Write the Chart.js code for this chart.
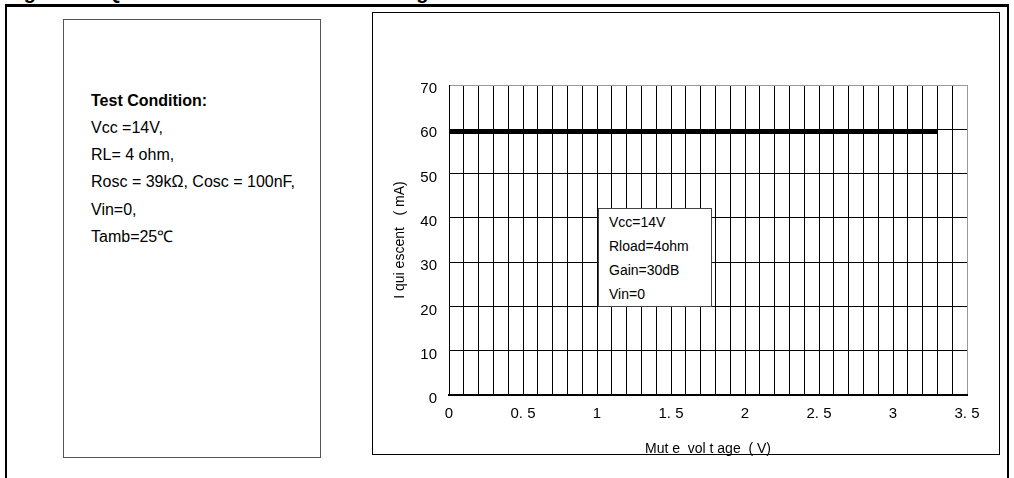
<!DOCTYPE html>
<html>
<head>
<meta charset="utf-8">
<script src="https://cdn.jsdelivr.net/npm/chart.js@4/dist/chart.umd.min.js"></script>
<style>
  html, body { margin:0; padding:0; background:#fff; }
  body { width:1014px; height:478px; position:relative; overflow:hidden; font-family:"Liberation Sans", Arial, sans-serif; color:#000; }
  .abs { position:absolute; }
  #fig-title { left:6px; top:-19px; font-weight:bold; font-size:20px; line-height:23px; white-space:nowrap; }
  #topline { left:5px; top:4px; width:1004px; height:3px; background:#000; }
  #leftline { left:5px; top:4px; width:2px; height:480px; background:#000; }
  #rightline { left:1007px; top:4px; width:2px; height:480px; background:#000; }
  #condbox { left:63px; top:19px; width:258px; height:439px; border:1px solid #555; box-sizing:border-box; }
  .cond { position:absolute; left:91px; font-size:16px; line-height:18px; white-space:nowrap; }
  #chartbox { left:372px; top:12px; width:628px; height:443px; border:1.5px solid #000; box-sizing:border-box; }
  #legendbox { left:598px; top:208px; width:114px; height:99px; border:1px solid #444; background:#fff; box-sizing:border-box; z-index:5; }
  .leg { position:absolute; left:609px; font-size:14px; line-height:16px; white-space:nowrap; z-index:6; }
  #c { position:absolute; left:0; top:0; z-index:3; }
</style>
</head>
<body>
<div id="fig-title" class="abs">Figure 16. Quiescent current vs. mute voltage</div>
<div id="topline" class="abs"></div>
<div id="leftline" class="abs"></div>
<div id="rightline" class="abs"></div>
<div id="condbox" class="abs"></div>
<div id="chartbox" class="abs"></div>
<div class="cond" style="top:92px;font-weight:bold;">Test Condition:</div>
<div class="cond" style="top:119px;">Vcc =14V,</div>
<div class="cond" style="top:146px;">RL= 4 ohm,</div>
<div class="cond" style="top:173px;">Rosc = 39kΩ, Cosc = 100nF,</div>
<div class="cond" style="top:201px;">Vin=0,</div>
<div class="cond" style="top:228px;">Tamb=25℃</div>
<div id="legendbox" class="abs"></div>
<div class="leg" style="top:214px;">Vcc=14V</div>
<div class="leg" style="top:238px;">Rload=4ohm</div>
<div class="leg" style="top:262px;">Gain=30dB</div>
<div class="leg" style="top:286px;">Vin=0</div>
<canvas id="c" width="1014" height="478"></canvas>
<script>
// ---- data ----
const muteVoltage = [0, 0.5, 1, 1.5, 2, 2.5, 3, 3.3];
const quiescentCurrent = [59.4, 59.4, 59.4, 59.4, 59.4, 59.4, 59.4, 59.4];
const xTickValues = [0, 0.5, 1, 1.5, 2, 2.5, 3, 3.5];
const xTickLabels = ['0', '0. 5', '1', '1. 5', '2', '2. 5', '3', '3. 5'];
const yTickValues = [0, 10, 20, 30, 40, 50, 60, 70];
const xTitle = 'Mut e  vol t age  ( V)';
const yTitle = 'I qui escent   ( mA)';

const points = muteVoltage.map((v, i) => ({x: v, y: quiescentCurrent[i]}));
const FONT = '"Liberation Sans", Arial, sans-serif';

new Chart(document.getElementById('c'), {
  type: 'line',
  data: {
    datasets: [{
      data: points,
      borderColor: '#000',
      borderWidth: 4,
      pointRadius: 0,
      fill: false,
      tension: 0
    }]
  },
  options: {
    responsive: false,
    animation: false,
    events: [],
    layout: { padding: { left: 369, right: 47, top: 85, bottom: 20 } },
    plugins: { legend: { display: false }, tooltip: { enabled: false } },
    scales: {
      x: {
        type: 'linear',
        min: 0, max: 3.5,
        afterFit: s => { s.height = 63; },
        grid: {
          drawTicks: false,
          color: c => (c.tick && Math.abs(c.tick.value - 3.5) < 1e-6) ? '#999' : '#000',
          lineWidth: 1
        },
        border: { color: '#000', width: 2 },
        ticks: {
          stepSize: 0.1,
          autoSkip: false,
          maxRotation: 0,
          padding: 10,
          color: '#000',
          font: { family: FONT, size: 15 },
          callback: v => {
            const i = xTickValues.findIndex(t => Math.abs(t - v) < 1e-6);
            return i >= 0 ? xTickLabels[i] : '';
          }
        },
        title: {
          display: true,
          text: xTitle,
          color: '#000',
          font: { family: FONT, size: 14 },
          padding: { top: 0, bottom: 0 }
        }
      },
      y: {
        min: 0, max: 70,
        afterFit: s => { s.width = 80; },
        grid: {
          drawTicks: false,
          color: c => (c.tick && c.tick.value === 70) ? '#999' : '#000',
          lineWidth: 1
        },
        border: { color: '#000', width: 1 },
        ticks: {
          stepSize: 10,
          padding: 12,
          labelOffset: 4,
          color: '#000',
          font: { family: FONT, size: 15 },
          callback: v => yTickValues.includes(v) ? String(v) : ''
        },
        title: {
          display: true,
          text: yTitle,
          color: '#000',
          font: { family: FONT, size: 14 },
          padding: { top: 23, bottom: 0 }
        }
      }
    }
  }
});
</script>
</body>
</html>
